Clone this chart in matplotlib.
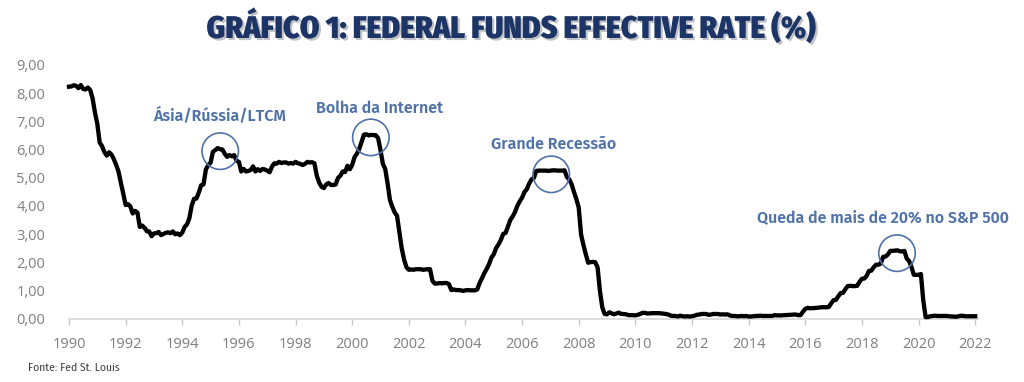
import matplotlib
matplotlib.use('Agg')
import matplotlib.pyplot as plt
import matplotlib.patheffects as pe
from matplotlib.ticker import FuncFormatter

# monthly effective fed funds rate, jan/1990 .. jan/2022
rates_by_year = {
    1990: [8.23, 8.24, 8.28, 8.26, 8.18, 8.29, 8.15, 8.13, 8.20, 8.11, 7.81, 7.31],
    1991: [6.91, 6.25, 6.12, 5.91, 5.78, 5.90, 5.82, 5.66, 5.45, 5.21, 4.81, 4.43],
    1992: [4.03, 4.06, 3.98, 3.73, 3.82, 3.76, 3.25, 3.30, 3.22, 3.10, 3.09, 2.92],
    1993: [3.02, 3.03, 3.07, 2.96, 3.00, 3.04, 3.06, 3.03, 3.09, 2.99, 3.02, 2.96],
    1994: [3.05, 3.25, 3.34, 3.56, 4.01, 4.25, 4.26, 4.47, 4.73, 4.76, 5.29, 5.45],
    1995: [5.53, 5.92, 5.98, 6.05, 6.01, 6.00, 5.85, 5.74, 5.80, 5.76, 5.80, 5.60],
    1996: [5.56, 5.22, 5.31, 5.22, 5.24, 5.27, 5.40, 5.22, 5.30, 5.24, 5.31, 5.29],
    1997: [5.25, 5.19, 5.39, 5.51, 5.50, 5.56, 5.52, 5.54, 5.54, 5.50, 5.52, 5.50],
    1998: [5.56, 5.51, 5.49, 5.45, 5.49, 5.56, 5.54, 5.55, 5.51, 5.07, 4.83, 4.68],
    1999: [4.63, 4.76, 4.81, 4.74, 4.74, 4.76, 4.99, 5.07, 5.22, 5.20, 5.42, 5.30],
    2000: [5.45, 5.73, 5.85, 6.02, 6.27, 6.53, 6.54, 6.50, 6.52, 6.51, 6.51, 6.40],
    2001: [5.98, 5.49, 5.31, 4.80, 4.21, 3.97, 3.77, 3.65, 3.07, 2.49, 2.09, 1.82],
    2002: [1.73, 1.74, 1.73, 1.75, 1.75, 1.75, 1.73, 1.74, 1.75, 1.75, 1.34, 1.24],
    2003: [1.24, 1.26, 1.25, 1.26, 1.26, 1.22, 1.01, 1.03, 1.01, 1.01, 1.00, 0.98],
    2004: [1.00, 1.01, 1.00, 1.00, 1.00, 1.03, 1.26, 1.43, 1.61, 1.76, 1.93, 2.16],
    2005: [2.28, 2.50, 2.63, 2.79, 3.00, 3.04, 3.26, 3.50, 3.62, 3.78, 4.00, 4.16],
    2006: [4.29, 4.49, 4.59, 4.79, 4.94, 4.99, 5.24, 5.25, 5.25, 5.25, 5.25, 5.24],
    2007: [5.25, 5.26, 5.26, 5.25, 5.25, 5.25, 5.26, 5.02, 4.94, 4.76, 4.49, 4.24],
    2008: [3.94, 2.98, 2.61, 2.28, 1.98, 2.00, 2.01, 2.00, 1.81, 0.97, 0.39, 0.16],
    2009: [0.15, 0.22, 0.18, 0.15, 0.18, 0.21, 0.16, 0.16, 0.15, 0.12, 0.12, 0.12],
    2010: [0.11, 0.13, 0.16, 0.20, 0.20, 0.18, 0.18, 0.19, 0.19, 0.19, 0.19, 0.18],
    2011: [0.17, 0.16, 0.14, 0.10, 0.09, 0.09, 0.07, 0.10, 0.08, 0.07, 0.08, 0.07],
    2012: [0.08, 0.10, 0.13, 0.14, 0.16, 0.16, 0.16, 0.13, 0.14, 0.16, 0.16, 0.16],
    2013: [0.14, 0.15, 0.14, 0.15, 0.11, 0.09, 0.09, 0.08, 0.08, 0.09, 0.08, 0.09],
    2014: [0.07, 0.07, 0.08, 0.09, 0.09, 0.10, 0.09, 0.09, 0.09, 0.09, 0.09, 0.12],
    2015: [0.11, 0.11, 0.11, 0.12, 0.12, 0.13, 0.13, 0.14, 0.14, 0.12, 0.12, 0.24],
    2016: [0.34, 0.38, 0.36, 0.37, 0.37, 0.38, 0.39, 0.40, 0.40, 0.40, 0.41, 0.54],
    2017: [0.65, 0.66, 0.79, 0.90, 0.91, 1.04, 1.15, 1.16, 1.15, 1.15, 1.16, 1.30],
    2018: [1.41, 1.42, 1.51, 1.69, 1.70, 1.82, 1.91, 1.91, 1.95, 2.19, 2.20, 2.27],
    2019: [2.40, 2.40, 2.41, 2.42, 2.39, 2.38, 2.40, 2.13, 2.04, 1.83, 1.55, 1.55],
    2020: [1.55, 1.58, 0.65, 0.05, 0.05, 0.08, 0.09, 0.10, 0.09, 0.09, 0.09, 0.09],
    2021: [0.09, 0.08, 0.07, 0.07, 0.06, 0.08, 0.10, 0.09, 0.08, 0.08, 0.08, 0.08],
    2022: [0.08],
}

# events highlighted on the chart
event_labels = ['Ásia/Rússia/LTCM', 'Bolha da Internet', 'Grande Recessão',
                'Queda de mais de 20% no S&P 500']
event_x = [1995.34, 2000.66, 2007.03, 2019.24]
event_y = [5.94, 6.43, 5.12, 2.32]
label_x = [1995.33, 2000.95, 2007.1, 2018.73]
label_y = [7.24, 7.45, 6.18, 3.57]

dates = []
rates = []
for year, vals in rates_by_year.items():
    for m, v in enumerate(vals):
        dates.append(year + m / 12)
        rates.append(v)

navy = '#1d3466'
blue = '#4f72a8'
gray = '#7f7f7f'
body_font = ['Fira Sans', 'Open Sans', 'DejaVu Sans']
tick_font = ['Open Sans', 'DejaVu Sans']
cond_font = ['Fira Sans Condensed', 'Liberation Sans Narrow', 'DejaVu Sans']

fig = plt.figure(figsize=(10.24, 3.82), dpi=100)
ax = fig.add_axes([69 / 1024, 63.5 / 382, (978 - 69) / 1024, (317 - 63.5) / 382])

ax.plot(dates, rates, color='black', lw=3.1, solid_joinstyle='round', clip_on=False, zorder=3)
ax.scatter(event_x, event_y, s=690, facecolors='none', edgecolors=blue, linewidths=1.2, zorder=4)
for lab, x, y in zip(event_labels, label_x, label_y):
    ax.text(x, y, lab, color=blue, fontsize=11.5, fontweight='semibold',
            family=body_font, ha='center', va='center')

ax.set_xlim(1990, 2022.1)
ax.set_ylim(0, 9)
ax.set_xticks(range(1990, 2023, 2))
ax.set_yticks(range(0, 10))
ax.yaxis.set_major_formatter(FuncFormatter(lambda v, p: f'{v:.2f}'.replace('.', ',')))

for s in ['top', 'right', 'left']:
    ax.spines[s].set_visible(False)
ax.spines['bottom'].set_color('#d9d9d9')
ax.spines['bottom'].set_linewidth(1.3)
ax.tick_params(axis='x', colors='#c8c8c8', length=4, width=1, labelcolor=gray,
               labelsize=10.5, pad=9)
ax.tick_params(axis='y', length=0, labelcolor=gray, labelsize=10.5, pad=17)
for lab in ax.get_xticklabels() + ax.get_yticklabels():
    lab.set_family(tick_font)

title = fig.text(0.5, 1 - 38 / 382, 'GRÁFICO 1: FEDERAL FUNDS EFFECTIVE RATE (%)',
                 ha='center', va='baseline', color=navy, fontsize=22.6, fontweight='black',
                 family=cond_font)
title.set_path_effects([pe.SimplePatchShadow(offset=(1.5, -1.5), alpha=0.25), pe.Normal()])

fig.text(28 / 1024, 1 - 368 / 382, 'Fonte: Fed St. Louis', ha='left', va='center',
         color='#404040', fontsize=8.3, family=cond_font)

fig.savefig('out.png', dpi=100, facecolor='white')
